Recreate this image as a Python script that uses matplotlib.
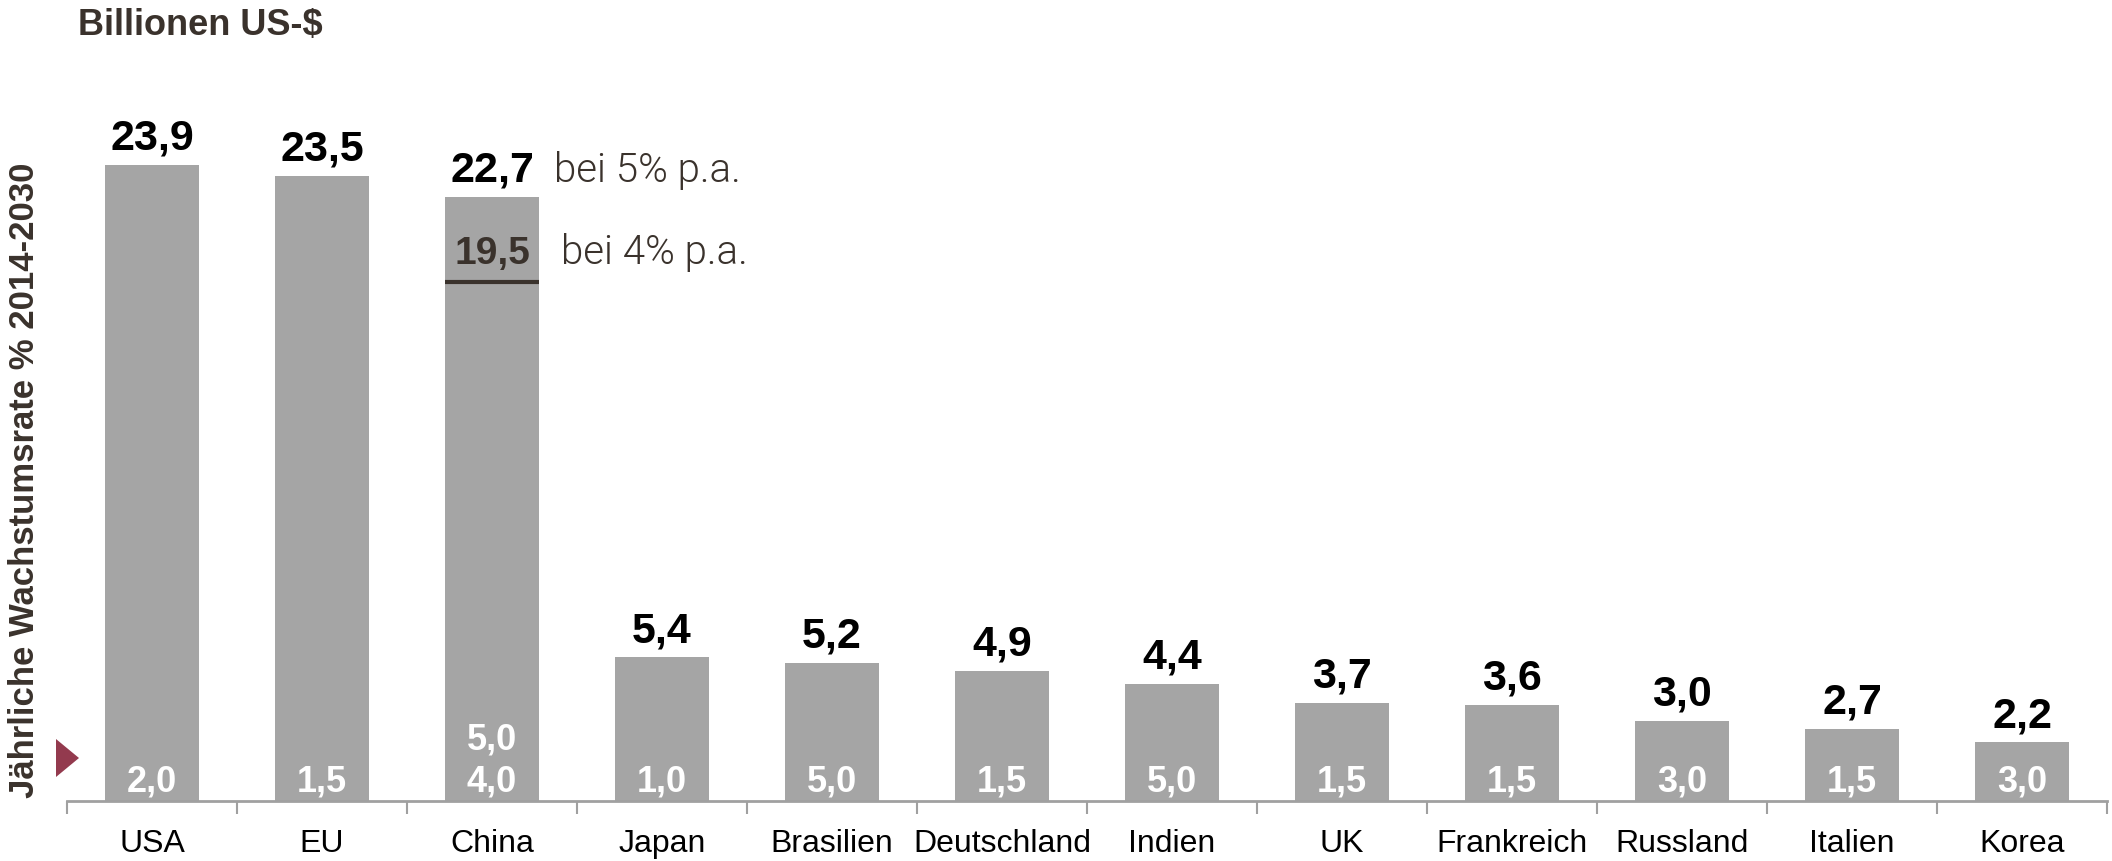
import matplotlib
matplotlib.use("Agg")
import matplotlib.pyplot as plt
from matplotlib.patches import Polygon

# Data
laender = ["USA", "EU", "China", "Japan", "Brasilien", "Deutschland", "Indien",
           "UK", "Frankreich", "Russland", "Italien", "Korea"]
bip_2030 = [23.9, 23.5, 22.7, 5.4, 5.2, 4.9, 4.4, 3.7, 3.6, 3.0, 2.7, 2.2]
wachstum = [2.0, 1.5, 4.0, 1.0, 5.0, 1.5, 5.0, 1.5, 1.5, 3.0, 1.5, 3.0]
china_5pct = 22.7
china_4pct = 19.5
china_wachstum_hoch = 5.0

BAR = "#a5a5a5"
DARK = "#3a322c"
AXIS = "#a0a0a0"
MAROON = "#933a4e"

NARROW = ["Liberation Sans Narrow", "Liberation Sans", "DejaVu Sans"]
REGULAR = ["Liberation Sans", "DejaVu Sans"]
LIGHT = ["Roboto", "Liberation Sans"]


def de(v):
    return f"{v:.1f}".replace(".", ",")


fig = plt.figure(figsize=(21.12, 8.61), dpi=100)
ax = fig.add_axes([67 / 2112, 60 / 861, 2040 / 2112, 801 / 861])

x = list(range(len(laender)))
w = 0.553
ax.bar(x, bip_2030, width=w, color=BAR, zorder=2)

ax.set_xlim(-0.5, len(laender) - 0.5)
ax.set_ylim(0, 30.1)
for s in ["top", "right", "left"]:
    ax.spines[s].set_visible(False)
ax.spines["bottom"].set_color(AXIS)
ax.spines["bottom"].set_linewidth(2)
ax.set_yticks([])

ax.set_xticks(x)
ax.set_xticklabels(laender, family=NARROW, fontsize=23, color="black")
ax.tick_params(axis="x", which="major", length=0, pad=20)
ax.set_xticks([i - 0.5 for i in range(len(laender) + 1)], minor=True)
ax.tick_params(axis="x", which="minor", length=9, width=1.5, color=AXIS)

# values above bars and growth rates inside
for i, (v, g) in enumerate(zip(bip_2030, wachstum)):
    ax.annotate(de(v), (i, v), xytext=(0, 11), textcoords="offset points",
                ha="center", va="baseline", family=NARROW, fontweight="bold",
                fontsize=31, color="black")
    ax.annotate(de(g), (i, 0), xytext=(0, 7), textcoords="offset points",
                ha="center", va="baseline", family=REGULAR, fontweight="bold",
                fontsize=26, color="white")

ci = laender.index("China")
ax.annotate(de(china_wachstum_hoch), (ci, 0), xytext=(0, 37),
            textcoords="offset points", ha="center", va="baseline",
            family=REGULAR, fontweight="bold", fontsize=26, color="white")

# China scenario at 4% p.a.
ax.hlines(china_4pct, ci - w / 2, ci + w / 2, color=DARK, linewidth=3, zorder=3)
ax.annotate(de(china_4pct), (ci, china_4pct), xytext=(0, 13),
            textcoords="offset points", ha="center", va="baseline",
            family=REGULAR, fontweight="bold", fontsize=28, color=DARK)
ax.annotate("bei 4% p.a.", (ci, china_4pct), xytext=(50, 13),
            textcoords="offset points", ha="left", va="baseline",
            family=LIGHT, fontweight=300, fontsize=29, color=DARK)
ax.annotate("bei 5% p.a.", (ci, china_5pct), xytext=(45, 11),
            textcoords="offset points", ha="left", va="baseline",
            family=LIGHT, fontweight=300, fontsize=29, color=DARK)

fig.text(78 / 2112, 1 - 8 / 861, "Billionen US-$", family=NARROW,
         fontweight="bold", fontsize=26, color=DARK, ha="left", va="top")
fig.text(25 / 2112, 1 - 480 / 861, "Jährliche Wachstumsrate % 2014-2030",
         family=REGULAR, fontweight="bold", fontsize=25, color=DARK,
         rotation=90, ha="center", va="center")

tri = [(56, 739), (56, 777), (79, 758)]
fig.add_artist(Polygon([(px / 2112, 1 - py / 861) for px, py in tri],
                       closed=True, transform=fig.transFigure,
                       facecolor=MAROON, edgecolor="none"))

fig.savefig("out.png", dpi=100)
